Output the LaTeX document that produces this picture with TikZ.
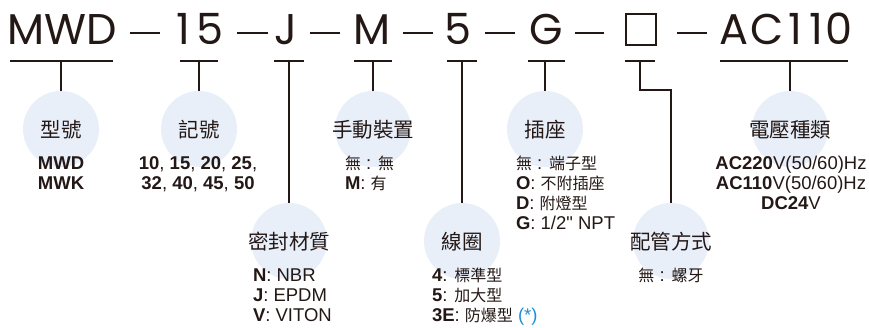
\documentclass[tikz,border=0pt]{standalone}
\usepackage{fontspec}
\setmainfont{Liberation Sans}
\newfontfamily\qfont{Liberation Sans}
\newfontfamily\cjk{Noto Sans CJK TC}
\newfontfamily\topfont{Poppins}
\definecolor{ink}{RGB}{35,24,21}
\definecolor{cbg}{RGB}{233,239,249}
\definecolor{starblue}{RGB}{30,144,215}
\newcommand{\sk}[1]{{\cjk\fontsize{16}{20}\selectfont #1}}
\begin{document}
\begin{tikzpicture}[x=1pt,y=-1pt,
  every node/.style={inner sep=0pt, outer sep=0pt, text=ink},
  bubble/.style={circle, fill=cbg, minimum size=76pt},
  token/.style={anchor=base, font=\topfont\fontsize{43}{43}\selectfont},
  ttl/.style={anchor=base, font=\cjk\fontsize{20.5}{24}\selectfont},
  sub/.style={anchor=base west, font=\fontsize{18.5}{20}\selectfont},
  subc/.style={anchor=base, font=\fontsize{18.5}{20}\selectfont},
  conn/.style={draw=ink, line width=1.3pt},
  dashline/.style={draw=ink, line width=2.3pt}]
\useasboundingbox (0,0) rectangle (869,327);
% bubbles
\node[bubble] (c1) at (61,129) {};
\node[bubble] (c2) at (199,129) {};
\node[bubble] (c3) at (373,129) {};
\node[bubble] (c4) at (289,241) {};
\node[bubble] (c5) at (462,241) {};
\node[bubble] (c6) at (545,129) {};
\node[bubble] (c7) at (671,241) {};
\node[bubble] (c8) at (790,129) {};
% top code
\node[token] (t1) at (62.5,44) {MWD};
\node[token] (t2) at (200,44) {1\kern6pt5};
\node[token] (t3) at (286,44) {J};
\node[token] (t4) at (372.5,44) {M};
\node[token] (t5) at (458,44) {5};
\node[token] (t6) at (546,44) {G};
\node[draw=ink, line width=2pt, minimum width=30pt, minimum height=31pt] (t7) at (641,29) {};
\node[token] (t8) at (786,44) {A\kern2ptC\kern5pt1\kern7pt1\kern2pt0};
% dashes
\coordinate (d1a) at (130,33); \coordinate (d1b) at (160,33);
\coordinate (d2a) at (237,33); \coordinate (d2b) at (268,33);
\coordinate (d3a) at (310,33); \coordinate (d3b) at (340,33);
\coordinate (d4a) at (403,33); \coordinate (d4b) at (433,33);
\coordinate (d5a) at (485,33); \coordinate (d5b) at (515,33);
\coordinate (d6a) at (575,33); \coordinate (d6b) at (604,33);
\coordinate (d7a) at (677,33); \coordinate (d7b) at (707,33);
\foreach \i in {1,...,7} {\draw[dashline] (d\i a) -- (d\i b);}
% underlines
\coordinate (u1a) at (10,61);  \coordinate (u1b) at (113,61); \coordinate (u1m) at (61,61);
\coordinate (u2a) at (180,61); \coordinate (u2b) at (218,61); \coordinate (u2m) at (199,61);
\coordinate (u3a) at (274,61); \coordinate (u3b) at (304,61); \coordinate (u3m) at (289,61);
\coordinate (u4a) at (354,61); \coordinate (u4b) at (392,61); \coordinate (u4m) at (373,61);
\coordinate (u5a) at (447,61); \coordinate (u5b) at (477,61); \coordinate (u5m) at (462,61);
\coordinate (u6a) at (528,61); \coordinate (u6b) at (565,61); \coordinate (u6m) at (545,61);
\coordinate (u7a) at (625,61); \coordinate (u7b) at (655,61); \coordinate (u7m) at (640,61);
\coordinate (u8a) at (720,61); \coordinate (u8b) at (848,61); \coordinate (u8m) at (790,61);
\foreach \i in {1,...,8} {\draw[conn] (u\i a) -- (u\i b);}
\draw[conn] (u1m) -- (c1.north);
\draw[conn] (u2m) -- (c2.north);
\draw[conn] (u4m) -- (c3.north);
\draw[conn] (u3m) -- (c4.north);
\draw[conn] (u5m) -- (c5.north);
\draw[conn] (u6m) -- (c6.north);
\coordinate (k7) at (640,90);
\draw[conn] (u7m) -- (k7) -| (c7.north);
\draw[conn] (u8m) -- (c8.north);
% titles
\node[ttl] (h1) at (61,137) {型號};
\node[ttl] (h2) at (199,137) {記號};
\node[ttl] (h3) at (373,137) {手動裝置};
\node[ttl] (h4) at (289,249) {密封材質};
\node[ttl] (h5) at (462,249) {線圈};
\node[ttl] (h6) at (545,137) {插座};
\node[ttl] (h7) at (671,249) {配管方式};
\node[ttl] (h8) at (790,137) {電壓種類};
% details
\node[subc] (m1) at (61,169) {\textbf{MWD}};
\node[subc] (m2) at (61,189) {\textbf{MWK}};
\node[subc] (n1) at (198,169) {\textbf{10}, \textbf{15}, \textbf{20}, \textbf{25},};
\node[subc] (n2) at (198,189) {\textbf{32}, \textbf{40}, \textbf{45}, \textbf{50}};
\node[sub] (s1) at (345,169) {\sk{無} : \sk{無}};
\node[sub] (s2) at (345,189) {\textbf{M}: \sk{有}};
\node[sub] (p1) at (516,169) {\sk{無} : \sk{端子型}};
\node[sub] (p2) at (516,189) {\textbf{O}: \sk{不附插座}};
\node[sub] (p3) at (516,209) {\textbf{D}: \sk{附燈型}};
\node[sub] (p4) at (516,229) {\textbf{G}: 1/2{\qfont"} NPT};
\node[subc] (v1) at (791,169) {\textbf{AC220}V(50/60)Hz};
\node[subc] (v2) at (791,189) {\textbf{AC110}V(50/60)Hz};
\node[subc] (v3) at (791,209) {\textbf{DC24}V};
\node[sub] (e1) at (253,281) {\textbf{N}: NBR};
\node[sub] (e2) at (253,301) {\textbf{J}: EPDM};
\node[sub] (e3) at (253,321) {\textbf{V}: VITON};
\node[sub] (w1) at (432,281) {\textbf{4}: \sk{標準型}};
\node[sub] (w2) at (432,301) {\textbf{5}: \sk{加大型}};
\node[sub] (w3) at (432,321) {\textbf{3E}: \sk{防爆型} \textcolor{starblue}{(*)}};
\node[subc] (g1) at (671,281) {\sk{無} : \sk{螺牙}};
\end{tikzpicture}
\end{document}
